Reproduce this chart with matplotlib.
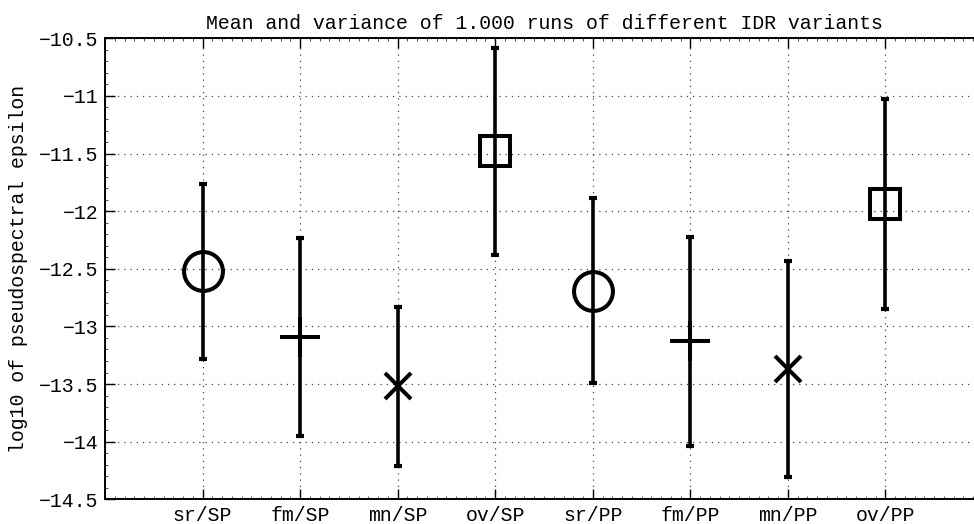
import matplotlib
matplotlib.use("Agg")
import matplotlib.pyplot as plt
from matplotlib.ticker import AutoMinorLocator

categories = ["sr/SP", "fm/SP", "mn/SP", "ov/SP", "sr/PP", "fm/PP", "mn/PP", "ov/PP"]
means = [-12.52, -13.09, -13.52, -11.48, -12.69, -13.13, -13.37, -11.94]
errors = [0.76, 0.86, 0.69, 0.90, 0.80, 0.91, 0.94, 0.91]
markers = ["o", "+", "x", "s", "o", "+", "x", "s"]
marker_sizes = [28, 29, 19, 22, 28, 29, 19, 22]
yticks = [-14.5, -14, -13.5, -13, -12.5, -12, -11.5, -11, -10.5]
ytick_labels = ["\u221214.5", "\u221214", "\u221213.5", "\u221213", "\u221212.5",
                "\u221212", "\u221211.5", "\u221211", "\u221210.5"]

plt.rcParams["font.family"] = ["Liberation Mono", "DejaVu Sans Mono"]
fs = 14.3

fig = plt.figure(figsize=(9.74, 5.24), dpi=100)
W, H = 974, 524
left, right, top, bottom = 105, 983, 38.3, 499.3
ax = fig.add_axes([left / W, 1 - bottom / H, (right - left) / W, (bottom - top) / H])

xs = list(range(1, len(categories) + 1))
for x, m, e, mk, ms in zip(xs, means, errors, markers, marker_sizes):
    ax.errorbar([x], [m], yerr=[e], fmt="none", ecolor="black", elinewidth=2.6,
                capsize=2.6, capthick=3.0, zorder=3)
    ax.plot([x], [m], marker=mk, markersize=ms, markerfacecolor="none",
            markeredgecolor="black", markeredgewidth=2.9, linestyle="none", zorder=4)

ax.set_xlim(0, 9)
ax.set_ylim(-14.5, -10.5)
ax.set_xticks(xs)
ax.set_xticklabels(categories, fontsize=fs)
ax.set_yticks(yticks)
ax.set_yticklabels(ytick_labels, fontsize=fs)
ax.xaxis.set_minor_locator(AutoMinorLocator(10))
ax.yaxis.set_minor_locator(AutoMinorLocator(5))
ax.tick_params(which="major", direction="in", length=7, width=1.0, top=True, right=False,
               pad=4.5, colors="black")
ax.tick_params(which="minor", direction="in", length=2.2, width=0.5, top=True, right=False)
ax.grid(True, which="major", linestyle=(0, (1, 4)), color="#444444", linewidth=0.9)
for s in ["left", "top", "bottom"]:
    ax.spines[s].set_linewidth(1.4)
ax.spines["right"].set_visible(False)

ax.set_title("Mean and variance of 1.000 runs of different IDR variants", fontsize=fs, pad=7)
ax.set_ylabel("log10 of pseudospectral epsilon", fontsize=fs, labelpad=8)

fig.savefig("out.png", dpi=100)
